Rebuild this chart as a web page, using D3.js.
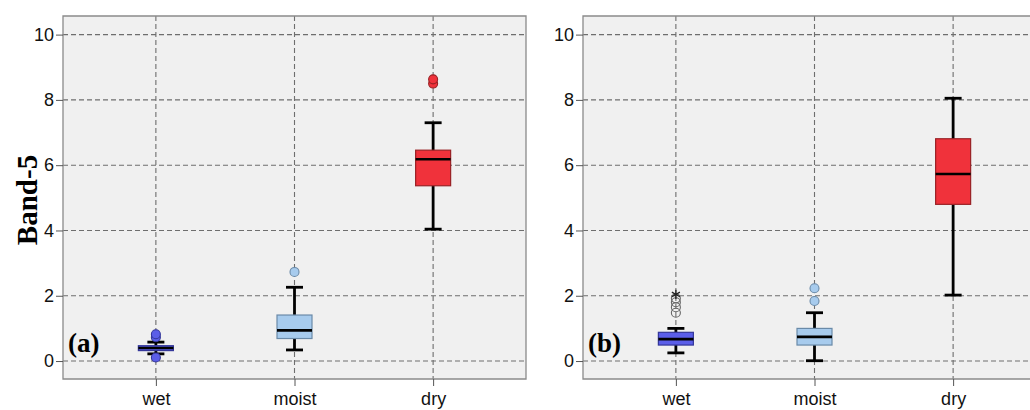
<!DOCTYPE html>
<html>
<head>
<meta charset="utf-8">
<script src="https://cdn.jsdelivr.net/npm/d3@7"></script>
<style>
  html, body { margin: 0; padding: 0; background: #fff; }
  svg { display: block; }
</style>
</head>
<body>
<svg id="chart" width="1030" height="410"></svg>
<script>
// ---- data ----
const categories = ["wet", "moist", "dry"];
const yTicks = [0, 2, 4, 6, 8, 10];
const panelLabels = ["(a)", "(b)"];
const yLabel = "Band-5";

// panel (a)
const aWhiskerLow  = [0.22, 0.34, 4.04];
const aQ1          = [0.32, 0.69, 5.37];
const aMedian      = [0.40, 0.94, 6.18];
const aQ3          = [0.47, 1.41, 6.46];
const aWhiskerHigh = [0.58, 2.26, 7.30];
const aOutliers    = [[0.11, 0.73, 0.82], [2.73], [8.50, 8.63]];
const aExtremes    = [[], [], []];

// panel (b)
const bWhiskerLow  = [0.25, 0.01, 2.02];
const bQ1          = [0.49, 0.49, 4.80];
const bMedian      = [0.67, 0.74, 5.73];
const bQ3          = [0.88, 1.00, 6.81];
const bWhiskerHigh = [1.00, 1.48, 8.05];
const bOutliers    = [[1.48, 1.65, 1.80, 1.92], [1.84, 2.23], []];
const bExtremes    = [[2.04], [], []];

const boxFill   = ["#5b5ee8", "#a7cbed", "#f0323b"];
const boxStroke = ["#34379a", "#6a8aa8", "#9a2226"];

// ---- layout ----
const svg = d3.select("#chart");
const panels = [
  { left: 63,  right: 526,  label: panelLabels[0],
    wl: aWhiskerLow, q1: aQ1, med: aMedian, q3: aQ3, wh: aWhiskerHigh,
    out: aOutliers, ext: aExtremes, hollow: [false, false, false], showRight: true },
  { left: 583, right: 1046, label: panelLabels[1],
    wl: bWhiskerLow, q1: bQ1, med: bMedian, q3: bQ3, wh: bWhiskerHigh,
    out: bOutliers, ext: bExtremes, hollow: [true, false, false], showRight: false }
];
const plotTop = 16, plotBottom = 379;

const y = d3.scaleLinear().domain([-0.55, 10.57]).range([plotBottom, plotTop]);

panels.forEach((p, pi) => {
  const x = d3.scalePoint().domain(categories).range([p.left, p.right]).padding(0.67);
  const g = svg.append("g");

  // background
  g.append("rect")
    .attr("x", p.left).attr("y", plotTop)
    .attr("width", p.right - p.left).attr("height", plotBottom - plotTop)
    .attr("fill", "#f0f0f0");

  // grid
  g.selectAll(".hg").data(yTicks).join("line")
    .attr("x1", p.left).attr("x2", p.right)
    .attr("y1", d => y(d)).attr("y2", d => y(d))
    .attr("stroke", "#6e6e6e").attr("stroke-width", 1.1)
    .attr("stroke-dasharray", "5,3");
  g.selectAll(".vg").data(categories).join("line")
    .attr("x1", d => x(d)).attr("x2", d => x(d))
    .attr("y1", plotTop).attr("y2", plotBottom)
    .attr("stroke", "#6e6e6e").attr("stroke-width", 1.1)
    .attr("stroke-dasharray", "5,3");

  // border
  g.append("path")
    .attr("d", p.showRight
      ? `M${p.left},${plotTop}H${p.right}V${plotBottom}H${p.left}Z`
      : `M${p.right},${plotTop}H${p.left}V${plotBottom}H${p.right}`)
    .attr("fill", "none").attr("stroke", "#8a8a8a").attr("stroke-width", 1.3);

  // axes
  const ya = g.append("g").attr("transform", `translate(${p.left},0)`)
    .call(d3.axisLeft(y).tickValues(yTicks).tickSize(7).tickPadding(2));
  ya.select(".domain").remove();
  ya.selectAll("line").attr("stroke", "#555");
  ya.selectAll("text").attr("font-family", "Liberation Sans, Arial, sans-serif")
    .attr("font-size", 18).attr("fill", "#111");

  const xa = g.append("g").attr("transform", `translate(0,${plotBottom})`)
    .call(d3.axisBottom(x).tickSize(7).tickPadding(6));
  xa.select(".domain").remove();
  xa.selectAll("line").attr("stroke", "#555");
  xa.selectAll("text").attr("font-family", "Liberation Sans, Arial, sans-serif")
    .attr("font-size", 18).attr("fill", "#111");

  // boxes
  const bw = 35, cw = 17;
  categories.forEach((c, i) => {
    const cx = x(c);
    const bg = g.append("g");
    bg.append("line").attr("x1", cx).attr("x2", cx)
      .attr("y1", y(p.wl[i])).attr("y2", y(p.wh[i]))
      .attr("stroke", "#000").attr("stroke-width", 2.8);
    [p.wl[i], p.wh[i]].forEach(v => {
      bg.append("line").attr("x1", cx - cw / 2).attr("x2", cx + cw / 2)
        .attr("y1", y(v)).attr("y2", y(v))
        .attr("stroke", "#000").attr("stroke-width", 2.8);
    });
    bg.append("rect")
      .attr("x", cx - bw / 2).attr("width", bw)
      .attr("y", y(p.q3[i])).attr("height", y(p.q1[i]) - y(p.q3[i]))
      .attr("fill", boxFill[i]).attr("stroke", boxStroke[i]).attr("stroke-width", 1.2);
    bg.append("line").attr("x1", cx - bw / 2).attr("x2", cx + bw / 2)
      .attr("y1", y(p.med[i])).attr("y2", y(p.med[i]))
      .attr("stroke", "#000").attr("stroke-width", 2.6);

    // outliers
    bg.selectAll(".o").data(p.out[i]).join("circle")
      .attr("cx", cx).attr("cy", d => y(d)).attr("r", 4.5)
      .attr("fill", p.hollow[i] ? "none" : boxFill[i])
      .attr("stroke", p.hollow[i] ? "#666" : boxStroke[i])
      .attr("stroke-width", 1.1);
    bg.selectAll(".e").data(p.ext[i]).join("path")
      .attr("transform", d => `translate(${cx},${y(d)})`)
      .attr("d", d3.symbol(d3.symbolAsterisk, 60)())
      .attr("fill", "none").attr("stroke", "#222").attr("stroke-width", 1.3);
  });

  // panel label
  g.append("text")
    .attr("x", p.left + 5).attr("y", 352)
    .attr("font-family", "Liberation Serif, Times New Roman, serif")
    .attr("font-weight", "bold").attr("font-size", 27).attr("fill", "#000")
    .text(p.label);
});

// y axis title
svg.append("text")
  .attr("transform", "translate(37,200) rotate(-90)")
  .attr("text-anchor", "middle")
  .attr("font-family", "Liberation Serif, Times New Roman, serif")
  .attr("font-weight", "bold").attr("font-size", 29).attr("fill", "#000")
  .text(yLabel);
</script>
</body>
</html>
